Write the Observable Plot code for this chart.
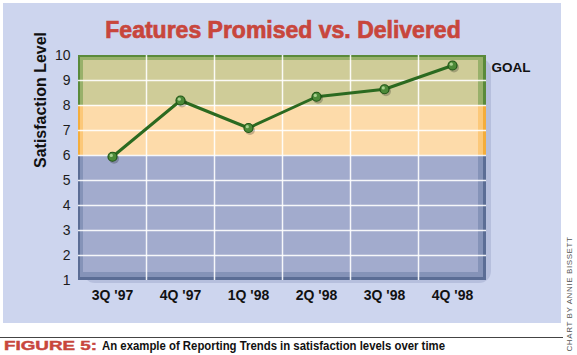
<!DOCTYPE html>
<html><head><meta charset="utf-8">
<script src="https://cdn.jsdelivr.net/npm/d3@7"></script>
<script src="https://cdn.jsdelivr.net/npm/@observablehq/plot@0.6"></script>
<style>
html,body{margin:0;padding:0;background:#fff;}
#wrap{position:relative;width:577px;height:355px;overflow:hidden;font-family:"Liberation Sans",Arial,Helvetica,sans-serif;}
#panel{position:absolute;left:3px;top:3px;width:558px;height:320px;background:#cdd5ee;}
#title{position:absolute;left:0;width:566px;top:19px;text-align:center;font-weight:bold;font-size:23px;line-height:23px;color:#c8463c;white-space:nowrap;-webkit-text-stroke:0.7px #c8463c;}
#chart{position:absolute;left:0;top:0;}
#rule{position:absolute;left:0;top:337px;width:563px;height:1px;background:#444;}
.cap{position:absolute;top:340px;font-size:12px;line-height:12px;font-weight:bold;white-space:nowrap;transform-origin:0 50%;}
#fig{left:4px;color:#c8463c;-webkit-text-stroke:0.4px #c8463c;}
#captext{left:102px;color:#111;}
#credit{position:absolute;left:570px;top:294px;font-size:8px;line-height:8px;letter-spacing:0.6px;color:#555;white-space:nowrap;transform:translate(-50%,-50%) rotate(-90deg);}
</style>
</head><body>
<div id="wrap">
  <div id="panel"></div>
  <div id="chart"></div>
  <div id="title">Features Promised vs. Delivered</div>
  <div id="rule"></div>
  <span id="fig" class="cap">FIGURE 5:</span>
  <span id="captext" class="cap">An example of Reporting Trends in satisfaction levels over time</span>
  <div id="credit">CHART BY ANNIE BISSETT</div>
</div>
<script>
// ---- data ----
const quarters = ["3Q '97", "4Q '97", "1Q '98", "2Q '98", "3Q '98", "4Q '98"];
const satisfaction = [5.95, 8.2, 7.1, 8.35, 8.65, 9.6];
const yTicks = [1, 2, 3, 4, 5, 6, 7, 8, 9, 10];
const zoneLow = [1, 6, 8];
const zoneHigh = [6, 8, 10];
const zoneFill = ["#a2abcd", "#fddbaa", "#cfcc98"];
const zoneMid = ["#8593b8", "#fcc879", "#98b06a"];
const zoneEdge = ["#5b6d95", "#f4ad3c", "#5a8a3a"];
const goalLabel = "GOAL";
const goalLevel = 9.5;

// ---- derived ----
const n = quarters.length;
const xl = -0.5, xr = n - 0.5;
const [yMin, yMax] = d3.extent(yTicks);
const points = quarters.map((q, i) => ({i, q, v: satisfaction[i]}));
const zones = zoneLow.map((lo, k) => ({lo, hi: zoneHigh[k], fill: zoneFill[k], mid: zoneMid[k], edge: zoneEdge[k]}));
const bounds = d3.range(1, n).map(i => i - 0.5);

const zoneMarks = zones.flatMap((z, k) => {
  const isTop = k === zones.length - 1, isBottom = k === 0;
  const base = {x1: () => xl, x2: () => xr, y1: "lo", y2: "hi", ariaLabel: "zone"};
  return [
    Plot.rect([z], {...base, fill: z.edge}),
    Plot.rect([z], {...base, fill: z.mid, insetLeft: 2, insetRight: 3, insetTop: isTop ? 2 : 0, insetBottom: isBottom ? 3 : 0}),
    Plot.rect([z], {...base, fill: z.fill, insetLeft: 5, insetRight: 8, insetTop: isTop ? 5 : 0, insetBottom: isBottom ? 8 : 0})
  ];
});

const chart = Plot.plot({
  width: 577,
  height: 323,
  marginLeft: 78,
  marginRight: 91,
  marginTop: 55,
  marginBottom: 43,
  x: {domain: [xl, xr], axis: null},
  y: {domain: [yMin, yMax], axis: null},
  style: {background: "transparent", fontFamily: "Liberation Sans, Arial, Helvetica, sans-serif", overflow: "visible"},
  marks: [
    Plot.rect([0], {x1: () => xl, x2: () => xr, y1: () => yMin, y2: () => yMax, dx: 5, dy: 3, rx: 12, fill: "#b6bfdd"}),
    ...zoneMarks,
    Plot.ruleY(yTicks.filter(t => t > yMin && t < yMax), {y: d => d, stroke: "#ffffff", strokeWidth: 1.5, strokeOpacity: 0.9, ariaLabel: "zone"}),
    Plot.ruleX(bounds, {x: d => d, stroke: "#ffffff", strokeWidth: 1.5, strokeOpacity: 0.9, ariaLabel: "zone"}),
    Plot.line(points, {x: "i", y: "v", stroke: "#2b6a20", strokeWidth: 3}),
    Plot.dot(points, {x: "i", y: "v", r: 5, fill: "#000", fillOpacity: 0.22, dx: 1.5, dy: 2}),
    Plot.dot(points, {x: "i", y: "v", r: 4.5, fill: "#4c8a38", stroke: "#1f5516", strokeWidth: 1.2}),
    Plot.dot(points, {x: "i", y: "v", r: 1.6, fill: "#a9d08f", dx: -1.2, dy: -1.3}),
    Plot.text(yTicks, {y: d => d, text: d => String(d), frameAnchor: "left", dx: -8, textAnchor: "end", fontSize: 14, fill: "#1c1c1c"}),
    Plot.text(quarters, {x: (d, i) => i, text: d => d, frameAnchor: "bottom", dy: 19, fontWeight: "bold", fontSize: 14, fill: "#111"}),
    Plot.text(["Satisfaction Level"], {text: d => d, frameAnchor: "left", dx: -38, rotate: -90, fontWeight: "bold", fontSize: 16, fill: "#111"}),
    Plot.text([goalLabel], {text: d => d, y: () => goalLevel, frameAnchor: "right", dx: 5, textAnchor: "start", fontWeight: "bold", fontSize: 13.5, fill: "#111"})
  ]
});
document.getElementById("chart").appendChild(chart);

// rounded clipping of the plotting frame
const svg = chart.tagName.toLowerCase() === "svg" ? chart : chart.querySelector("svg");
const xs = chart.scale("x"), ys = chart.scale("y");
const fx0 = Math.min(...xs.range), fx1 = Math.max(...xs.range);
const fy0 = Math.min(...ys.range), fy1 = Math.max(...ys.range);
const NS = "http://www.w3.org/2000/svg";
const defs = document.createElementNS(NS, "defs");
const cp = document.createElementNS(NS, "clipPath");
cp.setAttribute("id", "roundframe");
const cr = document.createElementNS(NS, "rect");
cr.setAttribute("x", fx0); cr.setAttribute("y", fy0);
cr.setAttribute("width", fx1 - fx0); cr.setAttribute("height", fy1 - fy0);
cr.setAttribute("rx", 12); cr.setAttribute("ry", 12);
cp.appendChild(cr); defs.appendChild(cp); svg.insertBefore(defs, svg.firstChild);
svg.querySelectorAll('[aria-label="zone"]').forEach(g => g.setAttribute("clip-path", "url(#roundframe)"));

// caption widths
function fit(id, w) {
  const el = document.getElementById(id);
  const cw = el.getBoundingClientRect().width;
  el.style.transform = `scaleX(${w / cw})`;
}
fit("fig", 93);
fit("captext", 343);
</script>
</body></html>
